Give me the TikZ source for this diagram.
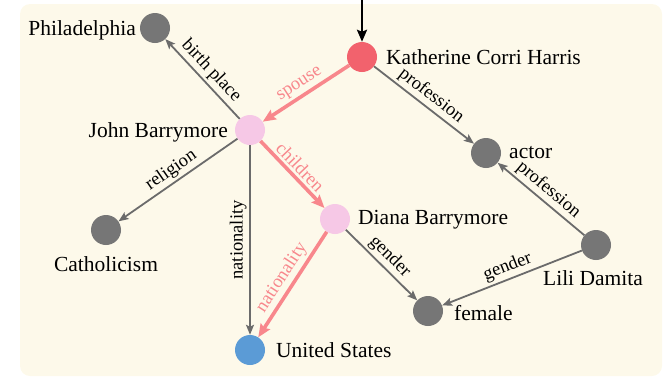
\documentclass[tikz,border=0pt]{standalone}
\usepackage{fontspec}
\setmainfont{Liberation Serif}
\usetikzlibrary{arrows.meta}
\definecolor{bgcream}{HTML}{FDF9EA}
\definecolor{entgray}{HTML}{767676}
\definecolor{edgegray}{HTML}{6B6B6B}
\definecolor{hotred}{HTML}{F2626D}
\definecolor{softpink}{HTML}{F6C8E6}
\definecolor{usblue}{HTML}{5B9BD6}
\definecolor{pathpink}{HTML}{F8878C}

\begin{document}
\begin{tikzpicture}[x=1pt,y=-1pt,
  ent/.style={circle,minimum size=30pt,inner sep=0pt,fill=#1},
  entname/.style={font=\fontsize{21.5}{24}\selectfont,inner sep=0pt},
  rel/.style={draw=edgegray,line width=1.8pt,-{Stealth[length=10pt,width=8pt,inset=2pt]}},
  hop/.style={draw=pathpink,line width=3.6pt,-{Stealth[length=13pt,width=11pt,inset=2pt]}},
  rlabfont/.style={font=\fontsize{18.5}{20}\selectfont,inner sep=2.5pt},
  rlab/.style={rlabfont,sloped,text=black},
  hlab/.style={rlab,text=pathpink}]
\useasboundingbox (0,0) rectangle (666,378);
\fill[bgcream, rounded corners=10pt] (20,4) rectangle (662,376);

% entities
\node[ent=entgray]  (phil)   at (155,28)  {};
\node[ent=hotred]   (kch)    at (362,57)  {};
\node[ent=softpink] (john)   at (250,130) {};
\node[ent=entgray]  (actor)  at (486,153) {};
\node[ent=entgray]  (cath)   at (106,230) {};
\node[ent=softpink] (diana)  at (335,219) {};
\node[ent=entgray]  (lili)   at (596,245) {};
\node[ent=entgray]  (female) at (428,311) {};
\node[ent=usblue]   (us)     at (250,350) {};

% entity names
\node[entname,anchor=base east] (phil-t)   at (136,35)  {Philadelphia};
\node[entname,anchor=base west] (kch-t)    at (386,64)  {Katherine Corri Harris};
\node[entname,anchor=base east] (john-t)   at (228,137) {John Barrymore};
\node[entname,anchor=base west] (actor-t)  at (509,158) {actor};
\node[entname,anchor=base west] (diana-t)  at (358,224) {Diana Barrymore};
\node[entname,anchor=base]      (lili-t)   at (593,285) {Lili Damita};
\node[entname,anchor=base west] (female-t) at (454,320) {female};
\node[entname,anchor=base]      (cath-t)   at (106,271) {Catholicism};
\node[entname,anchor=base west] (us-t)     at (276,357) {United States};

% query entry
\coordinate (entry) at (362,0);
\draw[line width=2.4pt,-{Stealth[length=12pt,width=10pt,inset=2pt]}] (entry) -- (kch);

% relations
\draw[rel] (john) -- node[rlab,above] (l-birth) {birth place} (phil);
\draw[rel] (kch) -- node[rlab,above] (l-prof1) {profession} (actor);
\draw[rel] (john) -- node[rlab,above] (l-rel) {religion} (cath);
\draw[rel] (john) -- node[rlabfont,rotate=90,anchor=south] (l-nat1) {nationality} (us);
\draw[rel] (diana) -- node[rlab,above] (l-gen1) {gender} (female);
\draw[rel] (lili) -- node[rlab,above] (l-prof2) {profession} (actor);
\draw[rel] (lili) -- node[rlab,above] (l-gen2) {gender} (female);

% reasoning path
\draw[hop] (kch) -- node[hlab,above] (l-spouse) {spouse} (john);
\draw[hop] (john) -- node[hlab,above] (l-child) {children} (diana);
\draw[hop] (diana) -- node[hlab,above] (l-nat2) {nationality} (us);
\end{tikzpicture}
\end{document}
